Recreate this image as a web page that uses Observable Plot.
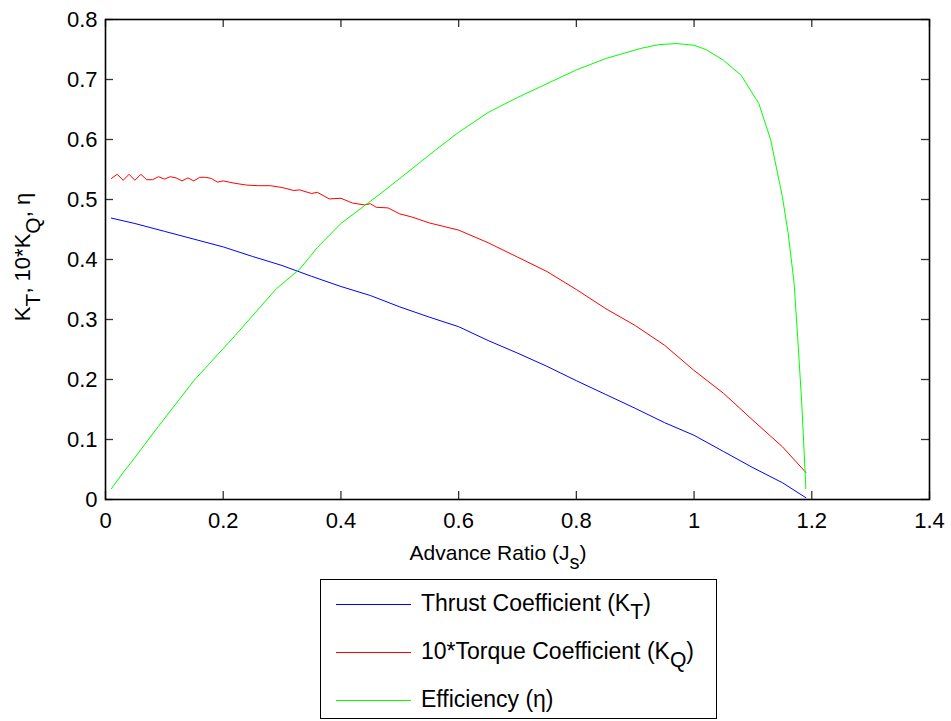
<!DOCTYPE html>
<html>
<head>
<meta charset="utf-8">
<script src="https://cdn.jsdelivr.net/npm/d3@7"></script>
<script src="https://cdn.jsdelivr.net/npm/@observablehq/plot@0.6"></script>
<style>
  html, body { margin: 0; padding: 0; background: #fff; }
  body { width: 951px; height: 721px; position: relative; overflow: hidden; font-family: "Liberation Sans", Arial, Helvetica, sans-serif; }
  #chart { position: absolute; left: 0; top: 0; }
  #legend { position: absolute; left: 320px; top: 579px; width: 395px; height: 138px; border: 1.5px solid #000; background: #fff; }
  .row { position: absolute; left: 0; height: 30px; }
  .row .swatch { position: absolute; left: 15px; width: 75px; height: 1px; top: 0; }
  .row .lab { position: absolute; left: 100px; top: -13px; font-size: 23px; white-space: nowrap; color: #000; line-height: 24px; }
  .row sub { font-size: 0.92em; position: relative; top: 0.38em; vertical-align: baseline; line-height: 0; }
</style>
</head>
<body>
<div id="chart"></div>
<div id="legend"></div>
<script>
// ---- data ----
const ktJ = [0.01,0.05,0.10,0.15,0.20,0.25,0.30,0.35,0.40,0.45,0.50,0.55,0.60,0.65,0.70,0.75,0.80,0.85,0.90,0.95,1.00,1.05,1.10,1.15,1.19];
const ktV = [0.469,0.460,0.447,0.434,0.421,0.405,0.390,0.372,0.355,0.340,0.321,0.304,0.288,0.265,0.244,0.222,0.198,0.175,0.152,0.128,0.107,0.080,0.053,0.028,0.003];

const kqJ = [0.01,0.02,0.03,0.04,0.05,0.06,0.07,0.08,0.09,0.10,0.11,0.12,0.13,0.14,0.15,0.16,0.17,0.18,0.19,0.20,0.22,0.24,0.26,0.28,0.30,0.32,0.33,0.35,0.36,0.38,0.40,0.42,0.44,0.45,0.46,0.48,0.50,0.52,0.55,0.60,0.65,0.70,0.75,0.80,0.85,0.90,0.95,1.00,1.05,1.10,1.15,1.19];
const kqV = [0.535,0.542,0.532,0.542,0.532,0.542,0.533,0.533,0.538,0.534,0.538,0.536,0.531,0.536,0.531,0.537,0.537,0.535,0.529,0.531,0.527,0.524,0.523,0.523,0.520,0.515,0.516,0.510,0.512,0.501,0.502,0.494,0.491,0.493,0.487,0.486,0.476,0.471,0.461,0.449,0.428,0.404,0.380,0.350,0.318,0.290,0.257,0.215,0.177,0.132,0.088,0.045];

const etaJ = [0.01,0.03,0.05,0.09,0.15,0.22,0.29,0.33,0.36,0.40,0.45,0.47,0.50,0.56,0.60,0.65,0.70,0.75,0.80,0.85,0.91,0.94,0.97,1.00,1.02,1.05,1.08,1.11,1.13,1.15,1.16,1.17,1.176,1.183,1.19];
const etaV = [0.018,0.045,0.070,0.122,0.198,0.273,0.351,0.384,0.420,0.460,0.497,0.512,0.535,0.582,0.612,0.645,0.670,0.693,0.716,0.735,0.752,0.758,0.760,0.757,0.750,0.732,0.707,0.660,0.600,0.505,0.443,0.360,0.270,0.160,0.018];

const xTicks = [0,0.2,0.4,0.6,0.8,1,1.2,1.4];
const yTicks = [0,0.1,0.2,0.3,0.4,0.5,0.6,0.7,0.8];

const seriesNames = ["Thrust Coefficient (K<sub>T</sub>)", "10*Torque Coefficient (K<sub>Q</sub>)", "Efficiency (\u03b7)"];
const seriesColors = ["#0000ff", "#ff0000", "#00ff00"];

const toRows = (J, V) => J.map((j, i) => ({J: j, v: V[i]}));
const kt = toRows(ktJ, ktV), kq = toRows(kqJ, kqV), eta = toRows(etaJ, etaV);

const W = 951, H = 578;
const mL = 105, mR = 22, mT = 19, mB = 79;
const plotH = H - mT - mB, plotW = W - mL - mR;
const tickLen = 8;

const font = "Liberation Sans, Arial, Helvetica, sans-serif";
const chart = Plot.plot({
  width: W, height: H,
  marginLeft: mL, marginRight: mR, marginTop: mT, marginBottom: mB,
  style: {fontFamily: font, fontSize: "22px", color: "#000", background: "#fff", overflow: "visible"},
  x: {domain: [0, 1.4]},
  y: {domain: [0, 0.8]},
  marks: [
    Plot.line(kt, {x: "J", y: "v", stroke: seriesColors[0], strokeWidth: 1}),
    Plot.line(kq, {x: "J", y: "v", stroke: seriesColors[1], strokeWidth: 1}),
    Plot.line(eta, {x: "J", y: "v", stroke: seriesColors[2], strokeWidth: 1}),
    // inward ticks on all four sides
    Plot.tickX(xTicks, {x: d => d, stroke: "#333", strokeWidth: 1.3, insetTop: plotH - tickLen}),
    Plot.tickX(xTicks, {x: d => d, stroke: "#333", strokeWidth: 1.3, insetBottom: plotH - tickLen}),
    Plot.tickY(yTicks, {y: d => d, stroke: "#333", strokeWidth: 1.3, insetRight: plotW - tickLen}),
    Plot.tickY(yTicks, {y: d => d, stroke: "#333", strokeWidth: 1.3, insetLeft: plotW - tickLen}),
    Plot.frame({stroke: "#000", strokeWidth: 1.6}),
    Plot.axisX(xTicks, {tickSize: 0, tickPadding: 13, tickFormat: d => String(d), label: null, fontSize: 22}),
    Plot.axisY(yTicks, {tickSize: 0, tickPadding: 8, tickFormat: d => String(d), label: null, fontSize: 22})
  ]
});
document.getElementById("chart").appendChild(chart);

// axis titles with subscripts
const svg = d3.select(chart);
const xt = svg.append("text")
  .attr("x", 498).attr("y", 560)
  .attr("text-anchor", "middle")
  .style("font-family", font).style("font-size", "21px").attr("fill", "#000");
xt.append("tspan").text("Advance Ratio (J");
xt.append("tspan").attr("dy", 9).style("font-size", "20px").text("s");
xt.append("tspan").attr("dy", -9).text(")");

const yt = svg.append("text")
  .attr("transform", "translate(30,257) rotate(-90)")
  .attr("text-anchor", "middle")
  .style("font-family", font).style("font-size", "22px").attr("fill", "#000");
yt.append("tspan").text("K");
yt.append("tspan").attr("dy", 10).style("font-size", "21px").text("T");
yt.append("tspan").attr("dy", -10).text(", 10*K");
yt.append("tspan").attr("dy", 10).style("font-size", "21px").text("Q");
yt.append("tspan").attr("dy", -10).text(", \u03b7");

// legend
const legend = document.getElementById("legend");
const rowTops = [24, 72, 120];
seriesNames.forEach((name, i) => {
  const row = document.createElement("div");
  row.className = "row";
  row.style.top = rowTops[i] + "px";
  row.style.width = "100%";
  const sw = document.createElement("div");
  sw.className = "swatch";
  sw.style.background = seriesColors[i];
  const lab = document.createElement("div");
  lab.className = "lab";
  lab.innerHTML = name;
  row.appendChild(sw);
  row.appendChild(lab);
  legend.appendChild(row);
});
</script>
</body>
</html>
